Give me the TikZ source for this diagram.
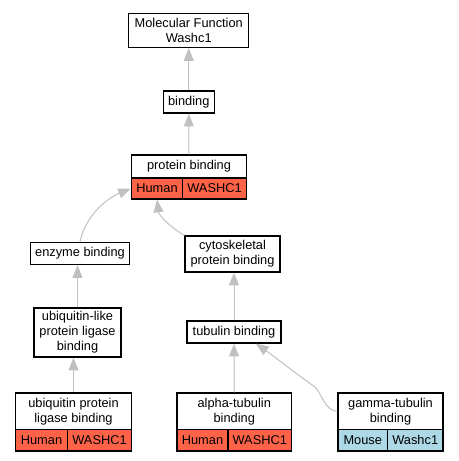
\documentclass[tikz,border=0pt]{standalone}
\usepackage{fontspec}
\setmainfont{Liberation Sans}
\usetikzlibrary{arrows.meta}
\definecolor{humanred}{RGB}{255,99,71}
\definecolor{mouseblue}{RGB}{173,216,230}
\definecolor{isagray}{RGB}{192,192,192}

\begin{document}
\begin{tikzpicture}[x=0.75pt,y=-0.75pt,
    term/.style={draw, line width=1pt, fill=white, align=center, inner sep=0pt,
      font=\fontsize{9.6}{11.25}\selectfont},
    boxsize/.style 2 args={minimum width=#1*0.75pt, minimum height=#2*0.75pt},
    human/.style={term, fill=humanred},
    mouse/.style={term, fill=mouseblue},
    isa/.style={draw=isagray, line width=0.75pt, -{Triangle[length=9.5pt,width=7.5pt]}}]

    \useasboundingbox (0,0) rectangle (459,461);

    % horni cast
    \node[term, boxsize={120}{34}] (mf) at (188.75,30.5) {Molecular Function\\Washc1};
    \node[term, boxsize={51}{22}] (bind) at (188.75,102) {binding};
    \node[term, boxsize={115}{23}] (pb) at (189,166.5) {protein binding};
    \node[human, boxsize={51}{21}] (pbh) at (157,188.5) {Human};
    \node[human, boxsize={64}{21}] (pbg) at (214.5,188.5) {WASHC1};

    % leva vetev
    \node[term, boxsize={99}{22}] (enz) at (80,253.5) {enzyme binding};
    \node[term, boxsize={87}{49}] (ubl) at (77.5,332.5) {ubiquitin-like\\protein ligase\\binding};
    \node[term, boxsize={116}{36.5}] (upl) at (73.5,411.25) {ubiquitin protein\\ligase binding};
    \node[human, boxsize={52}{21.5}] (uplh) at (41.5,440.25) {Human};
    \node[human, boxsize={64}{21.5}] (uplg) at (99.5,440.25) {WASHC1};

    % prava vetev
    \node[term, boxsize={95}{36}] (cyto) at (232.5,254) {cytoskeletal\\protein binding};
    \node[term, boxsize={94}{22}] (tub) at (234,332) {tubulin binding};
    \node[term, boxsize={114.5}{36.5}] (alpha) at (234.25,411.25) {alpha-tubulin\\binding};
    \node[human, boxsize={51}{21.5}] (alphah) at (202.5,440.25) {Human};
    \node[human, boxsize={63.5}{21.5}] (alphag) at (259.75,440.25) {WASHC1};
    \node[term, boxsize={105}{36.5}] (gam) at (390.5,411.25) {gamma-tubulin\\binding};
    \node[mouse, boxsize={49.5}{21.5}] (gamm) at (362.75,440.25) {Mouse};
    \node[mouse, boxsize={55.5}{21.5}] (gamg) at (415.25,440.25) {Washc1};

    % is_a hrany
    \draw[isa] (bind) -- (mf);
    \draw[isa] (pb) -- (bind);
    \draw[isa] (enz.north) .. controls +(6,-28) and +(-22,9) .. (pbh.west);
    \draw[isa] (cyto.north west) .. controls +(-14,-8) and +(2,16) .. (pbh.south);
    \draw[isa] (ubl.north) -- (ubl.north |- enz.south);
    \draw[isa] (upl.north) -- (upl.north |- ubl.south);
    \draw[isa] (tub.north) -- (tub.north |- cyto.south);
    \draw[isa] (alpha) -- (tub);
    \draw[isa] (gam.west) .. controls +(-12,0) and +(6,6) .. ++(-22,-24)
        .. controls +(-20,-14) and +(20,14) .. (tub.-28);

\end{tikzpicture}
\end{document}
